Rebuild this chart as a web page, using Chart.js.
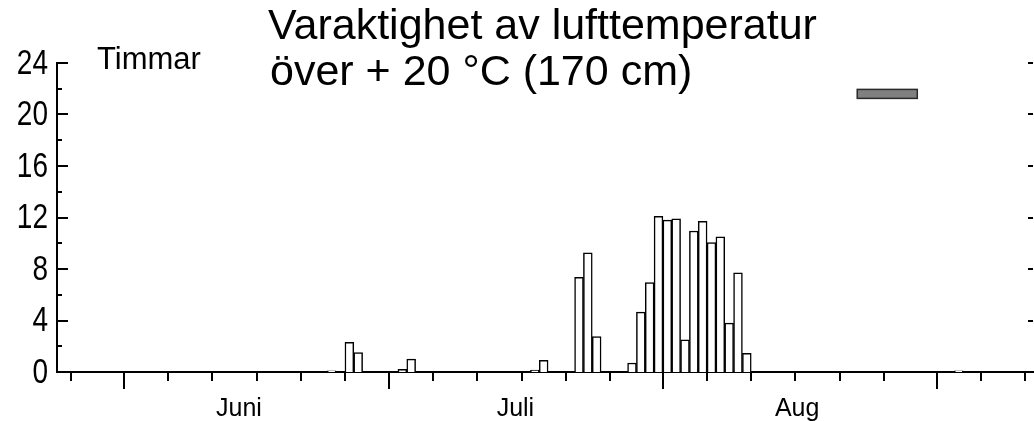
<!DOCTYPE html>
<html>
<head>
<meta charset="utf-8">
<title>Varaktighet av lufttemperatur</title>
<script src="https://cdn.jsdelivr.net/npm/chart.js@4.4.1/dist/chart.umd.min.js"></script>
<style>
  html, body { margin: 0; padding: 0; background: #fff; }
  #wrap { width: 1034px; height: 421px; position: relative; }
</style>
</head>
<body>
<div id="wrap"><canvas id="chart"></canvas></div>
<script>
/* days counted from 1 June: 0 = 1 Jun, 30 = 1 Jul, 61 = 1 Aug, 92 = 1 Sep */
var DAY_OFFSETS = [23, 25, 26, 31, 32, 46, 47, 51, 52, 53, 57, 58, 59, 60, 61, 62, 63, 64, 65, 66, 67, 68, 69, 70, 94];
var HOURS = [0.1, 2.3, 1.5, 0.2, 1.0, 0.15, 0.9, 7.35, 9.25, 2.75, 0.7, 4.65, 6.95, 12.1, 11.8, 11.9, 2.5, 10.95, 11.7, 10.05, 10.5, 3.8, 7.7, 1.45, 0.1];
var MARKER_DAYS = [83, 89.8];
var MARKER_LEVEL = 21.6;

var MONTH_LABELS = ['Juni', 'Juli', 'Aug'];
var MONTH_LABEL_DAYS = [13, 44.3, 76.2];
var MONTH_START_DAYS = [0, 30, 61, 92];
var TICK_DAYS = [-6, 0, 5, 10, 15, 20, 25, 30, 35, 40, 45, 50, 55, 61, 66, 71, 76, 81, 86, 92, 97, 102];
var Y_TICKS = [0, 4, 8, 12, 16, 20, 24];
var Y_MINOR_TICKS = [2, 6, 10, 14, 18, 22];
var X_RANGE = [-7.6, 102.9];

var TITLE_LINES = ['Varaktighet av lufttemperatur', 'över + 20 °C (170 cm)'];
var UNIT_LABEL = 'Timmar';

var SANS = '"Liberation Sans", Arial, sans-serif';

function buildBarPoints() {
  var points = [];
  var i;
  for (i = 0; i < DAY_OFFSETS.length; i += 1) {
    // each bar fills its whole day, so centre it half a day after the tick
    points.push({ x: DAY_OFFSETS[i] + 0.5, y: HOURS[i] });
  }
  return points;
}

// tick marks, grey marker, narrow y labels and free text, all placed through the chart's scales
var axisMarks = {
  id: 'axisMarks',
  afterDraw: function (chart) {
    var ctx = chart.ctx;
    var xs = chart.scales.x;
    var ys = chart.scales.y;
    var area = chart.chartArea;

    ctx.save();
    ctx.strokeStyle = '#000';
    ctx.lineWidth = 2;
    ctx.beginPath();

    TICK_DAYS.forEach(function (d) {
      var px = Math.round(xs.getPixelForValue(d));
      var len = MONTH_START_DAYS.indexOf(d) >= 0 ? 17 : 9;
      ctx.moveTo(px, area.bottom);
      ctx.lineTo(px, area.bottom + len);
    });

    Y_TICKS.forEach(function (v) {
      var py = Math.round(ys.getPixelForValue(v));
      ctx.moveTo(area.left, py);
      ctx.lineTo(area.left + 11, py);
      if (v > 0) {
        ctx.moveTo(area.right - 5, py);
        ctx.lineTo(area.right, py);
      }
    });

    Y_MINOR_TICKS.forEach(function (v) {
      var py = Math.round(ys.getPixelForValue(v));
      ctx.moveTo(area.left, py);
      ctx.lineTo(area.left + 5, py);
    });
    ctx.stroke();

    // grey marker bar up by the 22 h level
    var mx0 = xs.getPixelForValue(MARKER_DAYS[0]);
    var mx1 = xs.getPixelForValue(MARKER_DAYS[1]);
    var my = ys.getPixelForValue(MARKER_LEVEL);
    ctx.fillStyle = '#808080';
    ctx.fillRect(mx0, my - 4.5, mx1 - mx0, 9);
    ctx.strokeStyle = '#2a2a2a';
    ctx.lineWidth = 1.5;
    ctx.strokeRect(mx0, my - 4.5, mx1 - mx0, 9);

    ctx.fillStyle = '#000';

    // the y labels are set in a condensed face, so squeeze them sideways
    ctx.font = '35px ' + SANS;
    ctx.textAlign = 'right';
    ctx.textBaseline = 'middle';
    Y_TICKS.forEach(function (v) {
      var py = ys.getPixelForValue(v);
      ctx.save();
      ctx.translate(area.left - 9, py + 1);
      ctx.scale(0.8, 1);
      ctx.fillText(String(v), 0, 0);
      ctx.restore();
    });

    ctx.textAlign = 'left';
    ctx.textBaseline = 'alphabetic';
    ctx.font = '43px ' + SANS;
    ctx.fillText(TITLE_LINES[0], 268, 39);
    ctx.fillText(TITLE_LINES[1], 270, 85);
    ctx.font = '31px ' + SANS;
    ctx.fillText(UNIT_LABEL, 97, 69);
    ctx.restore();
  }
};

function initChart() {
  var canvas = document.getElementById('chart');

  new Chart(canvas.getContext('2d'), {
    type: 'bar',
    data: {
      datasets: [
        {
          label: 'Timmar',
          data: buildBarPoints(),
          backgroundColor: '#fff',
          borderColor: '#000',
          borderWidth: 1.5,
          barPercentage: 1,
          categoryPercentage: 1
        }
      ]
    },
    options: {
      responsive: true,
      maintainAspectRatio: false,
      animation: false,
      layout: { padding: { top: 63, right: 1, left: 0, bottom: 0 } },
      plugins: {
        legend: { display: false },
        tooltip: { enabled: false },
        title: { display: false }
      },
      scales: {
        x: {
          type: 'linear',
          min: X_RANGE[0],
          max: X_RANGE[1],
          offset: false,
          grid: { display: false, drawTicks: false, offset: false },
          border: { display: true, color: '#000', width: 2 },
          afterBuildTicks: function (scale) {
            scale.ticks = MONTH_LABEL_DAYS.map(function (d) { return { value: d }; });
          },
          afterFit: function (scale) { scale.height = 49; },
          ticks: {
            autoSkip: false,
            maxRotation: 0,
            padding: 22,
            color: '#000',
            font: { family: SANS, size: 25 },
            callback: function (value, index) { return MONTH_LABELS[index]; }
          }
        },
        y: {
          min: 0,
          max: 24,
          grid: { display: false, drawTicks: false },
          border: { display: true, color: '#000', width: 2 },
          afterBuildTicks: function (scale) {
            scale.ticks = Y_TICKS.map(function (v) { return { value: v }; });
          },
          afterFit: function (scale) { scale.width = 57; },
          ticks: { display: false }
        }
      }
    },
    plugins: [axisMarks]
  });
}

document.addEventListener('DOMContentLoaded', initChart);
</script>
</body>
</html>
